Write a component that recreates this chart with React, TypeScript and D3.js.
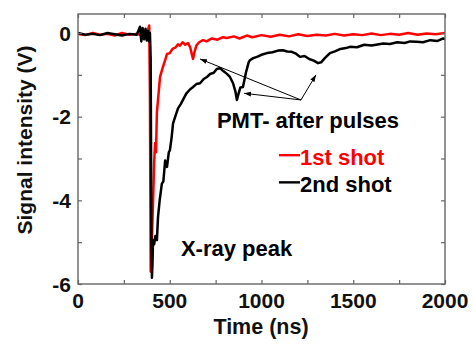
import React, { useRef, useEffect } from 'react';
import { select, scaleLinear, line, axisBottom, axisLeft, axisTop, axisRight } from 'd3';

// time (ns) / signal (V)
const redTime = [0, 40, 80, 120, 160, 200, 240, 280, 320, 350, 370, 382, 388, 392, 396, 400, 405, 410, 415, 420, 425, 430, 440, 447, 460, 475, 485, 500, 515, 530, 545, 556, 570, 585, 600, 612, 620, 627, 635, 645, 660, 681, 700, 730, 760, 790, 810, 850, 880, 920, 950, 1000, 1050, 1100, 1150, 1200, 1250, 1300, 1350, 1400, 1450, 1500, 1550, 1600, 1650, 1700, 1750, 1800, 1850, 1900, 1950, 2000];
const redSignal = [-0.02, -0.05, 0.0, -0.04, -0.02, -0.06, 0.0, -0.04, -0.02, -0.06, 0.03, 0.08, 0.18, -1.5, -5.7, -5.5, -4.6, -3.9, -3.1, -2.63, -2.85, -1.9, -1.4, -1.05, -0.85, -0.65, -0.5, -0.48, -0.38, -0.35, -0.27, -0.3, -0.22, -0.28, -0.24, -0.35, -0.5, -0.62, -0.45, -0.3, -0.22, -0.17, -0.2, -0.13, -0.16, -0.1, -0.12, -0.08, -0.13, -0.06, -0.1, -0.05, -0.09, -0.04, -0.08, -0.03, -0.07, -0.04, -0.06, -0.02, -0.06, -0.03, -0.05, -0.01, -0.05, -0.02, -0.04, 0.0, -0.04, -0.01, -0.03, 0.0];

const blackTime = [0, 40, 80, 120, 160, 200, 240, 280, 320, 338, 345, 352, 360, 368, 375, 382, 388, 392, 396, 400, 403, 406, 409, 415, 422, 430, 436, 445, 457, 465, 475, 485, 495, 501, 510, 518, 530, 545, 560, 572, 590, 610, 627, 645, 665, 685, 703, 720, 740, 756, 774, 790, 810, 828, 845, 858, 866, 875, 885, 899, 915, 930, 937, 955, 975, 1000, 1030, 1060, 1090, 1117, 1140, 1165, 1190, 1210, 1235, 1260, 1285, 1308, 1325, 1345, 1373, 1400, 1430, 1460, 1482, 1520, 1560, 1600, 1640, 1664, 1700, 1740, 1780, 1810, 1846, 1880, 1920, 1960, 1990, 2000];
const blackSignal = [0.0, -0.04, -0.02, -0.05, 0.0, -0.03, -0.06, -0.02, -0.04, 0.15, -0.2, 0.12, -0.15, 0.1, -0.18, 0.05, -0.2, 0.0, -0.6, -5.0, -5.85, -5.5, -4.95, -5.05, -4.85, -4.95, -4.4, -4.0, -3.6, -3.55, -3.05, -3.2, -2.85, -2.8, -2.5, -2.16, -2.0, -1.8, -1.7, -1.6, -1.45, -1.35, -1.29, -1.22, -1.2, -1.1, -1.05, -0.98, -0.95, -0.86, -0.84, -0.9, -0.97, -1.05, -1.2, -1.4, -1.6, -1.45, -1.3, -1.29, -0.95, -0.7, -0.65, -0.6, -0.57, -0.52, -0.48, -0.46, -0.42, -0.41, -0.44, -0.45, -0.5, -0.57, -0.55, -0.62, -0.66, -0.72, -0.7, -0.6, -0.48, -0.44, -0.38, -0.36, -0.33, -0.34, -0.28, -0.3, -0.27, -0.25, -0.26, -0.22, -0.24, -0.2, -0.21, -0.22, -0.17, -0.19, -0.13, -0.15];

const xTicks = [0, 500, 1000, 1500, 2000];
const xMinor = [250, 750, 1250, 1750];
const yTicks = [0, -2, -4, -6];
const yMinor = [-1, -3, -5];

// arrow start / end points in data units
const arrowFrom = [1215, -1.6];
const arrowTargets = [[665, -0.62], [905, -1.44], [1297, -1.0]];

const W = 473, H = 347;
const margin = { top: 14, right: 28, bottom: 63, left: 78 };

const App: React.FC = () => {
  const svgRef = useRef<SVGSVGElement | null>(null);

  useEffect(() => {
    const svg = select(svgRef.current);
    svg.selectAll('*').remove();
    const iw = W - margin.left - margin.right;
    const ih = H - margin.top - margin.bottom;
    const x = scaleLinear().domain([0, 2000]).range([0, iw]);
    const y = scaleLinear().domain([-6, 0.455]).range([ih, 0]);
    const axisColor = '#666';
    const font = '"Liberation Sans", Arial, sans-serif';

    const g = svg.append('g').attr('transform', `translate(${margin.left},${margin.top})`);

    const defs = svg.append('defs');
    defs.append('marker').attr('id', 'ah').attr('viewBox', '0 0 10 10').attr('refX', 10).attr('refY', 5)
      .attr('markerWidth', 7).attr('markerHeight', 7).attr('orient', 'auto-start-reverse')
      .append('path').attr('d', 'M0,1.5 L10,5 L0,8.5 Z').attr('fill', '#000');
    defs.append('clipPath').attr('id', 'plotclip').append('rect').attr('width', iw).attr('height', ih + 1);

    const draw = (ts: number[], vs: number[], color: string) => {
      const pts = ts.map((t, i) => [t, vs[i]] as [number, number]);
      g.append('path')
        .datum(pts)
        .attr('clip-path', 'url(#plotclip)')
        .attr('fill', 'none')
        .attr('stroke', color)
        .attr('stroke-width', 2.5)
        .attr('stroke-linejoin', 'round')
        .attr('d', line<[number, number]>().x(d => x(d[0])).y(d => y(d[1])));
    };
    draw(redTime, redSignal, '#ff0000');
    draw(blackTime, blackSignal, '#000');

    // axes with inward ticks on all four sides
    const styleAxis = (sel: any) => {
      sel.select('.domain').remove();
      sel.selectAll('line').attr('stroke', axisColor).attr('stroke-width', 1.2);
    };
    g.append('g').attr('transform', `translate(0,${ih})`)
      .call(axisBottom(x).tickValues([...xTicks, ...xMinor]).tickSize(-4).tickFormat(() => '')).call(styleAxis);
    g.append('g').call(axisTop(x).tickValues([...xTicks, ...xMinor]).tickSize(-4).tickFormat(() => '')).call(styleAxis);
    g.append('g').call(axisLeft(y).tickValues([...yTicks, ...yMinor]).tickSize(-4).tickFormat(() => '')).call(styleAxis);
    g.append('g').attr('transform', `translate(${iw},0)`)
      .call(axisRight(y).tickValues([...yTicks, ...yMinor]).tickSize(-4).tickFormat(() => '')).call(styleAxis);

    g.append('rect').attr('width', iw).attr('height', ih).attr('fill', 'none')
      .attr('stroke', axisColor).attr('stroke-width', 1.4);

    // tick labels
    g.selectAll('.xl').data(xTicks).enter().append('text')
      .attr('x', d => x(d)).attr('y', ih + 24).attr('text-anchor', 'middle')
      .attr('font-family', font).attr('font-weight', 'bold').attr('font-size', 21).attr('fill', '#111')
      .text(d => d);
    g.selectAll('.yl').data(yTicks).enter().append('text')
      .attr('x', -7).attr('y', d => y(d) + 7.5).attr('text-anchor', 'end')
      .attr('font-family', font).attr('font-weight', 'bold').attr('font-size', 21).attr('fill', '#111')
      .text(d => d);

    svg.append('text').attr('x', 261).attr('y', 334).attr('text-anchor', 'middle')
      .attr('font-family', font).attr('font-weight', 'bold').attr('font-size', 21.5).attr('fill', '#111')
      .text('Time (ns)');
    svg.append('text').attr('transform', `translate(32,140) rotate(-90)`).attr('text-anchor', 'middle')
      .attr('font-family', font).attr('font-weight', 'bold').attr('font-size', 21).attr('fill', '#111')
      .text('Signal intensity (V)');

    // annotations
    arrowTargets.forEach(([tx, ty]) => {
      g.append('line')
        .attr('x1', x(arrowFrom[0])).attr('y1', y(arrowFrom[1]))
        .attr('x2', x(tx)).attr('y2', y(ty))
        .attr('stroke', '#000').attr('stroke-width', 1).attr('marker-end', 'url(#ah)');
    });
    g.append('text').attr('x', x(757)).attr('y', y(-2.28))
      .attr('font-family', font).attr('font-weight', 'bold').attr('font-size', 22).attr('fill', '#000')
      .text('PMT- after pulses');
    g.append('text').attr('x', x(561)).attr('y', y(-5.32))
      .attr('font-family', font).attr('font-weight', 'bold').attr('font-size', 22).attr('fill', '#000')
      .text('X-ray peak');

    // legend
    const legend = [
      { label: '1st shot', color: '#ff0000', v: -2.92 },
      { label: '2nd shot', color: '#000', v: -3.57 },
    ];
    legend.forEach(l => {
      g.append('line').attr('x1', x(1095)).attr('x2', x(1210)).attr('y1', y(l.v)).attr('y2', y(l.v))
        .attr('stroke', l.color).attr('stroke-width', 2.4);
      g.append('text').attr('x', x(1210)).attr('y', y(l.v) + 10)
        .attr('font-family', font).attr('font-weight', 'bold').attr('font-size', 22).attr('fill', l.color)
        .text(l.label);
    });
  }, []);

  return (
    <svg ref={svgRef} width={W} height={H} style={{ position: 'absolute', left: 0, top: 0, background: '#fff' }} />
  );
};

export default App;
